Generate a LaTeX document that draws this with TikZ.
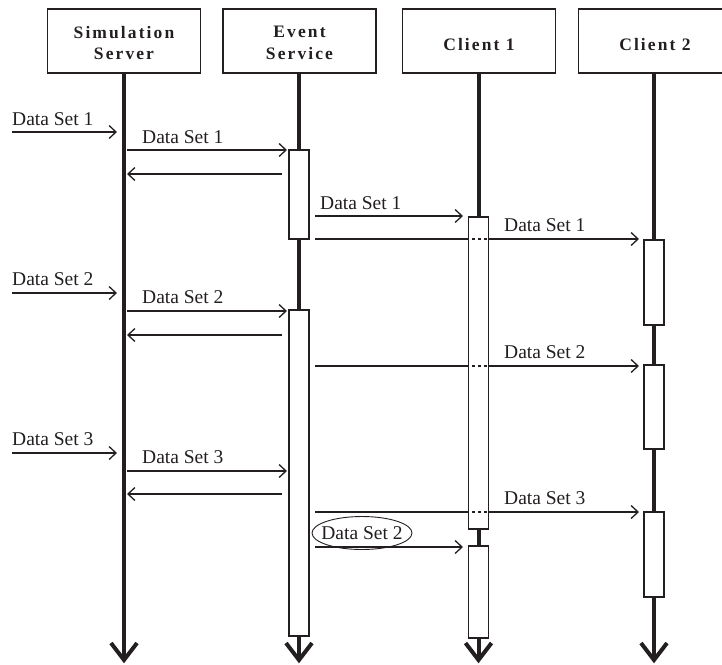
\documentclass[tikz,border=0pt]{standalone}
\usepackage{fontspec}
\setmainfont{Liberation Serif}
\newfontfamily\hdrfont[LetterSpace=12]{Liberation Serif}
\usetikzlibrary{arrows.meta,shapes.geometric}
\definecolor{ink}{HTML}{231F20}
\newcommand\mymsg[4]{%
  \coordinate (#1s) at (#3,#2);
  \coordinate (#1e) at (#4,#2);
  \draw[msg] (#1s) -- (#1e);}
\newcommand\mylbl[4]{%
  \node[lbl] (#1) at (#2,#3) {#4};}
\begin{document}
\begin{tikzpicture}[x=1pt,y=-1pt,
  hdr/.style={draw=ink, line width=1.1pt, minimum width=153pt, minimum height=64pt, inner sep=0pt},
  hdrtext/.style={align=center, inner sep=0pt, text=ink, font=\hdrfont\bfseries\fontsize{17.5}{21.5}\selectfont},
  life/.style={draw=ink, line width=4pt},
  chev/.style={draw=ink, line width=4pt, miter limit=10, line join=miter},
  act/.style={draw=ink, fill=white, line width=1.1pt, minimum width=20pt, inner sep=0pt},
  msg/.style={draw=ink, line width=1.3pt, -{Straight Barb[length=7pt,width=13pt]}},
  lbl/.style={anchor=base west, inner sep=0pt, text=ink, font=\fontsize{19.5}{22}\selectfont},
  dsh/.style={draw=ink, line width=1.3pt, dash pattern=on 3pt off 3pt}
]
\useasboundingbox (0,0) rectangle (722,664);
\begin{scope}
\clip (0,0) rectangle (722,664);
% header boxes
\node[hdr] (sim) at (124,41) {};
\node[hdr] (ev) at (299.5,41) {};
\node[hdr] (c1) at (479,41) {};
\node[hdr] (c2) at (655,41) {};
\node[hdrtext] (simT) at ([yshift=-2pt]sim.center) {Simulation\\Server};
\node[hdrtext] (evT) at ([yshift=-2pt]ev.center) {Event\\Service};
\node[hdrtext] (c1T) at ([yshift=-4pt]c1.center) {Client 1};
\node[hdrtext] (c2T) at ([yshift=-4pt]c2.center) {Client 2};
% lifelines
\coordinate (simB) at (124,660);
\coordinate (evB) at (299,660);
\coordinate (c1B) at (478.5,660);
\coordinate (c2B) at (654,660);
\draw[life] (124,73) -- (simB);
\draw[life] (299,73) -- (evB);
\draw[life] (478.5,73) -- (c1B);
\draw[life] (654,73) -- (c2B);
\foreach \p in {simB,evB,c1B,c2B}
  \draw[chev] ([xshift=-13pt,yshift=17pt]\p) -- (\p) -- ([xshift=13pt,yshift=17pt]\p);
% messages
\mymsg{x1}{132}{12}{117}
\mymsg{m1}{150}{127}{287}
\mymsg{r1}{174}{282}{127}
\mymsg{m2}{216}{315}{463}
\mymsg{m3}{239}{315}{639}
\mymsg{x2}{293}{12}{117}
\mymsg{m4}{311}{127}{287}
\mymsg{r2}{335}{282}{127}
\mymsg{m5}{366}{315}{639}
\mymsg{x3}{453}{12}{117}
\mymsg{m6}{471}{127}{287}
\mymsg{r3}{494}{282}{127}
\mymsg{m7}{512}{315}{639}
\mymsg{m8}{547}{315}{463}
% labels
\mylbl{lx1}{12}{125}{Data Set 1}
\mylbl{lm1}{142}{143}{Data Set 1}
\mylbl{lm2}{320}{209}{Data Set 1}
\mylbl{lm3}{504}{231}{Data Set 1}
\mylbl{lx2}{12}{285}{Data Set 2}
\mylbl{lm4}{142}{303}{Data Set 2}
\mylbl{lm5}{504}{358}{Data Set 2}
\mylbl{lx3}{12}{445}{Data Set 3}
\mylbl{lm6}{142}{463}{Data Set 3}
\mylbl{lm7}{504}{504}{Data Set 3}
\node[inner sep=0pt, text=ink, font=\fontsize{19.5}{22}\selectfont] (lm8) at (362,533) {Data Set 2};
\draw[ink, line width=0.9pt] (lm8.center) ellipse [x radius=50, y radius=16.5];
% activation boxes
\node[act, minimum height=89pt] (ev1) at (299,194.5) {};
\node[act, minimum height=326pt] (ev2) at (299,473) {};
\node[act, minimum height=312pt] (c1a) at (478.5,373) {};
\node[act, minimum height=92pt] (c1b) at (478.5,592) {};
\node[act, minimum height=85pt] (c2a) at (654,282.5) {};
\node[act, minimum height=84pt] (c2b) at (654,407) {};
\node[act, minimum height=85pt] (c2c) at (654,554.5) {};
% dashed crossings
\foreach \y in {239,366,512}
  \draw[dsh] (472,\y) -- (487,\y);
\end{scope}
\end{tikzpicture}
\end{document}
